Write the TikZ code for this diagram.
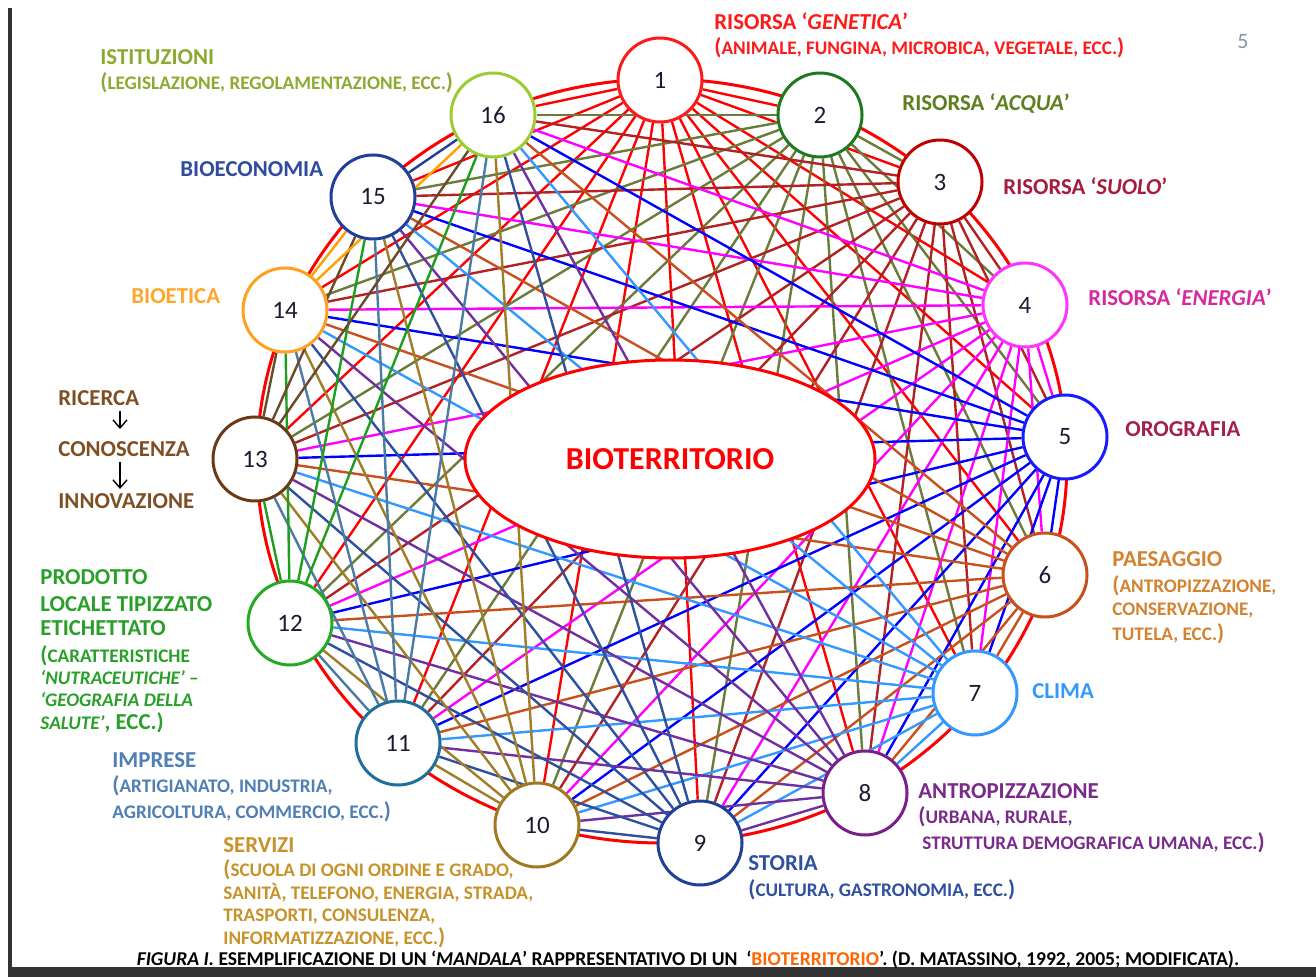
\documentclass[tikz,border=0pt]{standalone}
\usepackage{fontspec}
\setmainfont{Carlito}
\usetikzlibrary{shapes.geometric,backgrounds,arrows.meta}
% node colours
\definecolor{n1}{HTML}{FF1A1A}
\definecolor{n2}{HTML}{1F7A1F}
\definecolor{n3}{HTML}{C00000}
\definecolor{n4}{HTML}{FF33FF}
\definecolor{n5}{HTML}{1A1AFF}
\definecolor{n6}{HTML}{C8501E}
\definecolor{n7}{HTML}{3399FF}
\definecolor{n8}{HTML}{7A1F8A}
\definecolor{n9}{HTML}{1F3F99}
\definecolor{n10}{HTML}{A07820}
\definecolor{n11}{HTML}{1F6F9A}
\definecolor{n12}{HTML}{22AA22}
\definecolor{n13}{HTML}{6B3A14}
\definecolor{n14}{HTML}{FFA020}
\definecolor{n15}{HTML}{1F3F9A}
\definecolor{n16}{HTML}{9ACD32}
% edge colours
\definecolor{e1}{HTML}{FF0000}
\definecolor{e2}{HTML}{6B7B3A}
\definecolor{e3}{HTML}{B22222}
\definecolor{e4}{HTML}{FF00FF}
\definecolor{e5}{HTML}{0000FF}
\definecolor{e6}{HTML}{C8501E}
\definecolor{e7}{HTML}{3399FF}
\definecolor{e8}{HTML}{7030A0}
\definecolor{e9}{HTML}{2F4F9F}
\definecolor{e10}{HTML}{A07D28}
\definecolor{e11}{HTML}{4A7BA7}
\definecolor{e12}{HTML}{1E9E1E}
\definecolor{e13}{HTML}{6B4A2A}
\definecolor{e14}{HTML}{FFA000}
\definecolor{e15}{HTML}{203F99}
\definecolor{e16}{HTML}{9ACD32}
% label colours
\definecolor{t1}{HTML}{FF1A1A}
\definecolor{t2}{HTML}{5E7F1E}
\definecolor{t3}{HTML}{A51C3C}
\definecolor{t4}{HTML}{D42A9E}
\definecolor{t5}{HTML}{A2204A}
\definecolor{t6}{HTML}{D4822F}
\definecolor{t7}{HTML}{3399FF}
\definecolor{t8}{HTML}{7A2A8A}
\definecolor{t9}{HTML}{2F4F9F}
\definecolor{t10}{HTML}{C8922A}
\definecolor{t11}{HTML}{4F7FB5}
\definecolor{t12}{HTML}{28A028}
\definecolor{t13}{HTML}{7F4F24}
\definecolor{t14}{HTML}{FFA52A}
\definecolor{t15}{HTML}{2F4A9F}
\definecolor{t16}{HTML}{8DAA30}
\definecolor{bar}{HTML}{333333}
\definecolor{pgnum}{HTML}{8A96A3}
\definecolor{numcol}{HTML}{1A1A33}
\newcommand\smc[1]{{\fontsize{9.6}{10}\selectfont #1}}
\begin{document}
\begin{tikzpicture}[x=0.5pt,y=-0.5pt,
  num/.style={circle, draw, fill=white, line width=1.5pt, minimum size=42pt, inner sep=0pt, text=numcol, font=\fontsize{12.5}{14}\selectfont},
  lab/.style={anchor=base west, inner sep=0pt, font=\bfseries\fontsize{11.4}{13}\selectfont},
  edgeline/.style={line width=1.2pt},
  darr/.style={-{Straight Barb[length=4pt,width=7pt]}, line width=0.7pt, black}]
\useasboundingbox (0,0) rectangle (1316,977);
% nodes
\foreach \i/\x/\y in {1/660/80, 2/820/115, 3/940/182, 4/1025/305, 5/1065/437, 6/1045/575, 7/975/693, 8/865/793, 9/700/843, 10/537/825, 11/398/743, 12/290/623, 13/255/459, 14/285/310, 15/373/197, 16/493/115}
  \node[num, draw=n\i] (n\i) at (\x,\y) {\i};
\node[ellipse, draw=red, fill=white, line width=1.5pt, minimum width=205pt, minimum height=99pt, inner sep=0pt, text=red, font=\bfseries\fontsize{16}{18}\selectfont] (bio) at (670,459) {BIOTERRITORIO};
% background: page, edges, ring
\begin{scope}[on background layer]
  \fill[white] (0,0) rectangle (1316,977);
  \foreach \i in {1,...,15}{
    \pgfmathtruncatemacro\s{\i+1}
    \foreach \j in {\s,...,16}{
      \draw[edgeline, draw=e\i] (n\i) -- (n\j);
    }
  }
  \draw[red, line width=1.5pt] (662,461) ellipse [x radius=405, y radius=382];
\end{scope}
% frame
\fill[bar] (8,8) rectangle (12,977);
\fill[bar] (8,967) rectangle (1316,977);
% page number
\node[anchor=base, inner sep=0pt, text=pgnum, font=\fontsize{11}{13}\selectfont] (pg) at (1243,49) {5};
% labels
\node[lab, text=t1] (l1a) at (714,30) {RISORSA ‘\textit{GENETICA}’};
\node[lab, text=t1] (l1b) at (714,55) {(\smc{ANIMALE, FUNGINA, MICROBICA, VEGETALE, ECC.})};
\node[lab, text=t2] (l2) at (902,111) {RISORSA ‘\textit{ACQUA}’};
\node[lab, text=t3] (l3) at (1003,195) {RISORSA ‘\textit{SUOLO}’};
\node[lab, text=t4] (l4) at (1088,306) {RISORSA ‘\textit{ENERGIA}’};
\node[lab, text=t5] (l5) at (1125,437) {OROGRAFIA};
\node[lab, text=t6] (l6a) at (1112,567) {PAESAGGIO};
\node[lab, text=t6] (l6b) at (1112,593) {(\smc{ANTROPIZZAZIONE,}};
\node[lab, text=t6] (l6c) at (1112,616) {\smc{CONSERVAZIONE,}};
\node[lab, text=t6] (l6d) at (1112,640) {\smc{TUTELA, ECC.})};
\node[lab, text=t7] (l7) at (1032,698) {CLIMA};
\node[lab, text=t8] (l8a) at (918,798) {ANTROPIZZAZIONE};
\node[lab, text=t8] (l8b) at (918,823) {(\smc{URBANA, RURALE,}};
\node[lab, text=t8] (l8c) at (922,849) {\smc{STRUTTURA DEMOGRAFICA UMANA, ECC.})};
\node[lab, text=t9] (l9a) at (748,870) {STORIA};
\node[lab, text=t9] (l9b) at (748,896) {(\smc{CULTURA, GASTRONOMIA, ECC.})};
\node[lab, text=t10] (l10a) at (223,852) {SERVIZI};
\node[lab, text=t10] (l10b) at (223,876) {(\smc{SCUOLA DI OGNI ORDINE E GRADO,}};
\node[lab, text=t10] (l10c) at (223,899) {\smc{SANITÀ, TELEFONO, ENERGIA, STRADA,}};
\node[lab, text=t10] (l10d) at (223,921) {\smc{TRASPORTI, CONSULENZA,}};
\node[lab, text=t10] (l10e) at (223,944) {\smc{INFORMATIZZAZIONE, ECC.})};
\node[lab, text=t11] (l11a) at (112,767) {IMPRESE};
\node[lab, text=t11] (l11b) at (112,792) {(\smc{ARTIGIANATO, INDUSTRIA,}};
\node[lab, text=t11] (l11c) at (112,818) {\smc{AGRICOLTURA, COMMERCIO, ECC.})};
\node[lab, text=t12] (l12a) at (40,585) {PRODOTTO};
\node[lab, text=t12] (l12b) at (40,611) {LOCALE TIPIZZATO};
\node[lab, text=t12] (l12c) at (40,636) {ETICHETTATO};
\node[lab, text=t12] (l12d) at (40,662) {(\smc{CARATTERISTICHE}};
\node[lab, text=t12] (l12e) at (40,684) {\smc{\textit{‘NUTRACEUTICHE’} –}};
\node[lab, text=t12] (l12f) at (40,706) {\smc{\textit{‘GEOGRAFIA DELLA}}};
\node[lab, text=t12] (l12g) at (40,729) {\smc{\textit{SALUTE’}}, ECC.)};
\node[lab, text=t13] (l13a) at (58,406) {RICERCA};
\node[lab, text=t13] (l13b) at (58,457) {CONOSCENZA};
\node[lab, text=t13] (l13c) at (58,509) {INNOVAZIONE};
\coordinate (a1s) at (120,411);
\coordinate (a1e) at (120,429);
\coordinate (a2s) at (120,462);
\coordinate (a2e) at (120,489);
\draw[darr] (a1s) -- (a1e);
\draw[darr] (a2s) -- (a2e);
\node[lab, text=t14] (l14) at (131,304) {BIOETICA};
\node[lab, text=t15] (l15) at (180,177) {BIOECONOMIA};
\node[lab, text=t16] (l16a) at (100,65) {ISTITUZIONI};
\node[lab, text=t16] (l16b) at (100,90) {(\smc{LEGISLAZIONE, REGOLAMENTAZIONE, ECC.})};
% caption
\node[anchor=base, inner sep=0pt, font=\bfseries\fontsize{9.8}{11}\selectfont] (cap) at (688,965)
  {\textit{FIGURA I.} ESEMPLIFICAZIONE DI UN ‘\textit{MANDALA}’ RAPPRESENTATIVO DI UN\ \ ‘\textcolor{orange!80!red}{BIOTERRITORIO}’. (D. MATASSINO, 1992, 2005; MODIFICATA).};
\end{tikzpicture}
\end{document}
